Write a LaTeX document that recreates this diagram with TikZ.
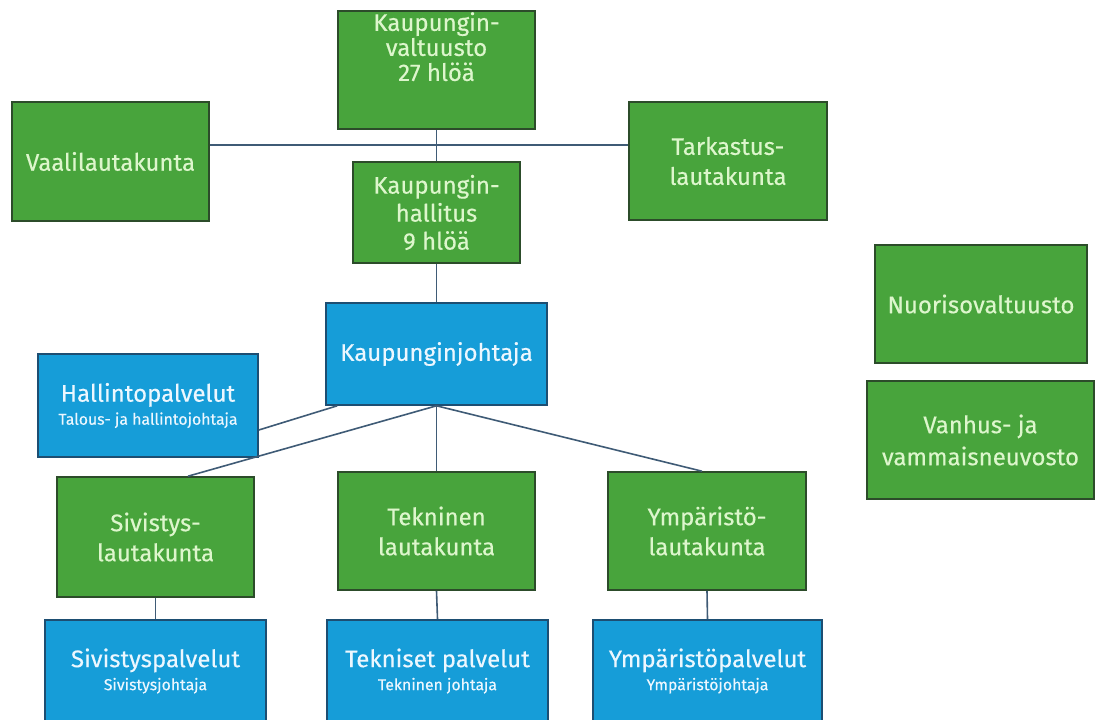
\documentclass[tikz,border=0pt]{standalone}
\usepackage{fontspec}
\setmainfont{Fira Sans}[FakeBold=0.35]
\usetikzlibrary{calc}
\definecolor{gfill}{HTML}{48A43C}
\definecolor{gdraw}{HTML}{2C4C2A}
\definecolor{bfill}{HTML}{169DD8}
\definecolor{bdraw}{HTML}{1D4E72}
\definecolor{gtext}{HTML}{DDF6CC}
\definecolor{btext}{HTML}{ECF7FF}
\definecolor{conn}{HTML}{3F5B76}
\tikzset{
  gbox/.style={rectangle, fill=gfill, draw=gdraw, line width=1.6pt, text=gtext, align=center, inner sep=0pt, font=\fontsize{24}{30}\selectfont},
  bbox/.style={rectangle, fill=bfill, draw=bdraw, line width=1.6pt, text=btext, align=center, inner sep=0pt, font=\fontsize{24}{26}\selectfont},
  txt/.style={text=gtext, align=center, inner sep=0pt, font=\fontsize{24}{25}\selectfont},
  link/.style={draw=conn, line width=1.6pt}
}
\newcommand{\subtxt}[1]{{\fontsize{15.8}{17}\selectfont #1}}
\begin{document}
\begin{tikzpicture}[x=1pt,y=-1pt]
\path[use as bounding box, clip] (0,0) rectangle (1095,720);
\fill[white] (0,0) rectangle (1095,720);
% boxes
\node[gbox, minimum width=197pt, minimum height=118pt] (valt) at (436.5,70) {};
\node[txt, anchor=north] (valtt) at (436.5,12) {Kaupungin-\\valtuusto\\27 hlöä};
\node[gbox, minimum width=197pt, minimum height=119pt] (vaali) at (110.5,161.5) {Vaalilautakunta};
\node[gbox, minimum width=198pt, minimum height=118pt] (tark) at (728,161) {Tarkastus-\\lautakunta};
\node[gbox, minimum width=167pt, minimum height=101pt, font=\fontsize{24}{28}\selectfont] (hall) at (436.5,212.5) {Kaupungin-\\hallitus\\9 hlöä};
\node[bbox, minimum width=221pt, minimum height=102pt] (joht) at (436.5,354) {Kaupunginjohtaja};
\node[bbox, minimum width=220pt, minimum height=103pt] (hallinto) at (148,405.5) {Hallintopalvelut\\[-3pt]\subtxt{Talous- ja hallintojohtaja}};
\node[gbox, minimum width=212pt, minimum height=118pt] (nuor) at (981,304) {Nuorisovaltuusto};
\node[gbox, minimum width=227pt, minimum height=118pt, font=\fontsize{24}{32}\selectfont] (vanh) at (980.5,440) {Vanhus- ja\\vammaisneuvosto};
\node[gbox, minimum width=197pt, minimum height=120pt] (sivlk) at (155.5,537) {Sivistys-\\lautakunta};
\node[gbox, minimum width=197pt, minimum height=118pt] (teklk) at (436.5,531) {Tekninen\\lautakunta};
\node[gbox, minimum width=198pt, minimum height=118pt] (ymplk) at (707,531) {Ympäristö-\\lautakunta};
\node[bbox, minimum width=221pt, minimum height=121pt, anchor=north] (sivp) at (155.5,619) {};
\node[bbox, minimum width=221pt, minimum height=121pt, anchor=north] (tekp) at (437.5,619) {};
\node[bbox, minimum width=229pt, minimum height=121pt, anchor=north] (ympp) at (707.5,619) {};
\node[txt, text=btext, font=\fontsize{24}{26}\selectfont] (sivpt) at (155.5,671) {Sivistyspalvelut\\[-3pt]\subtxt{Sivistysjohtaja}};
\node[txt, text=btext, font=\fontsize{24}{26}\selectfont] (tekpt) at (437.5,671) {Tekniset palvelut\\[-3pt]\subtxt{Tekninen johtaja}};
\node[txt, text=btext, font=\fontsize{24}{26}\selectfont] (ymppt) at (707.5,671) {Ympäristöpalvelut\\[-3pt]\subtxt{Ympäristöjohtaja}};
% connectors
\coordinate (hj) at (437,145);
\draw[link] (vaali.east |- hj) -- (tark.west |- hj);
\draw[link] (valt.south) -- (hall.north);
\draw[link] (hall.south) -- (joht.north);
\draw[link] (joht.south) -- (teklk.north);
\draw[link] (joht.south) -- ($(ymplk.north)+(-5,0)$);
\draw[link] (joht.south) -- ($(sivlk.north)+(32.5,0)$);
\draw[link] ($(hallinto.east)+(0,24.5)$) -- ($(joht.south west)+(12,0)$);
\draw[link] (sivlk.south) -- (sivp.north);
\draw[link] (teklk.south) -- (tekp.north);
\draw[link] (ymplk.south) -- (ympp.north);
\end{tikzpicture}
\end{document}
